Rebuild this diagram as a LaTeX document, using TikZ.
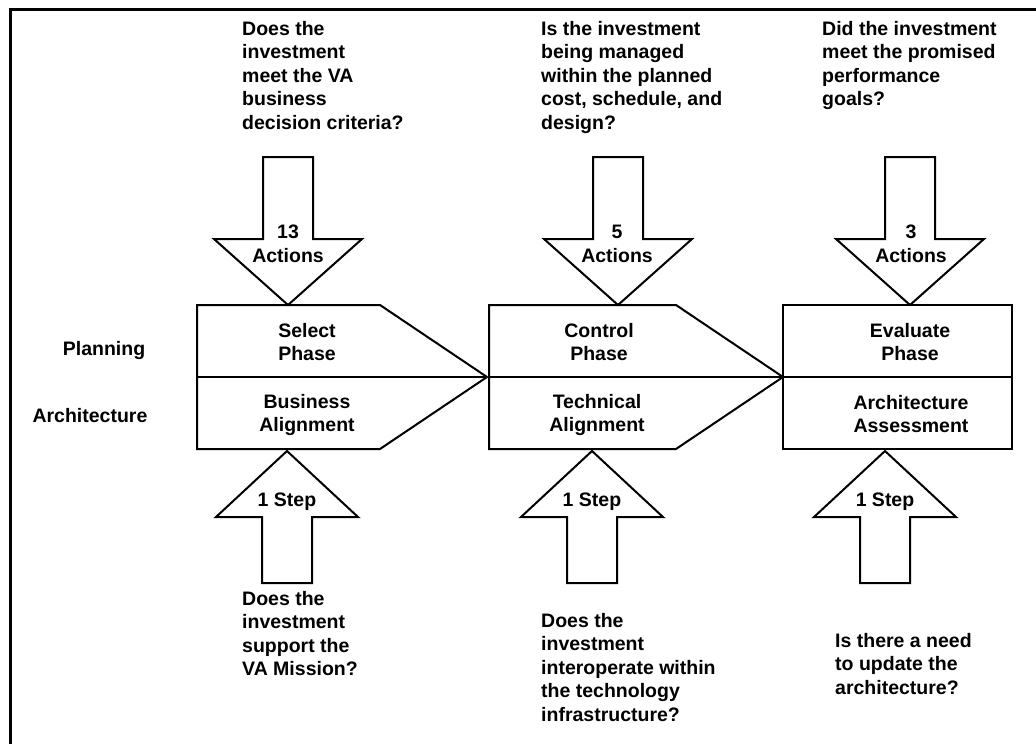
\documentclass[tikz,border=0pt]{standalone}
\usepackage{fontspec}
\setmainfont{Liberation Sans}
\usetikzlibrary{positioning}
\newcommand{\qfont}{\fontsize{19.5}{23.5}\selectfont\bfseries}
\tikzset{
  shp/.style={draw=black, line width=2pt, fill=white, line join=miter},
  frame/.style={draw=black, line width=3pt},
  qtext/.style={font=\qfont, align=left, anchor=north west, inner sep=0pt},
  ptext/.style={font=\qfont, align=center, inner sep=0pt},
  rowlbl/.style={font=\qfont, inner sep=0pt},
}
% ---- block arrows: #1 = centre x ----
\newcommand{\toparrow}[1]{\draw[shp] (#1-25,157) -- (#1+25,157) -- (#1+25,239) -- (#1+74,239)
   -- (#1,305) -- (#1-74,239) -- (#1-25,239) -- cycle;}
\newcommand{\botarrow}[1]{\draw[shp] (#1-25,583) -- (#1+25,583) -- (#1+25,517) -- (#1+71,517)
   -- (#1,451) -- (#1-71,517) -- (#1-25,517) -- cycle;}

\begin{document}
\begin{tikzpicture}[x=1pt, y=-1pt]
\useasboundingbox (0,0) rectangle (1036,744);
\draw[frame] (10,744) -- (10,9) -- (1036,9);
% phase boxes
\draw[shp] (197,305) -- (380,305) -- (487,377) -- (380,449) -- (197,449) -- cycle;
\draw[shp] (197,377) -- (487,377);
\draw[shp] (489,305) -- (676,305) -- (783,377) -- (676,449) -- (489,449) -- cycle;
\draw[shp] (489,377) -- (783,377);
\draw[shp] (783,305) rectangle (1012,449);
\draw[shp] (783,377) -- (1012,377);
% arrows
\toparrow{288} \toparrow{618} \toparrow{910}
\botarrow{287} \botarrow{592} \botarrow{885}
% row labels
\node[rowlbl] (plan) at (104,350) {Planning};
\node[rowlbl] (arch) at (90,416) {Architecture};
% phase texts
\node[ptext] (sel) at (307,342) {Select\\Phase};
\node[ptext] (bal) at (307,415) {Business\\Alignment};
\node[ptext] (ctl) at (599,342) {Control\\Phase};
\node[ptext] (tal) at (597,415) {Technical\\Alignment};
\node[ptext] (evl) at (910,342) {Evaluate\\Phase};
\node[ptext] (aas) at (911,414) {Architecture\\Assessment};
% arrow texts
\node[ptext] (a13) at (288,244) {13\\Actions};
\node[ptext] (a5) at (617,244) {5\\Actions};
\node[ptext] (a3) at (911,244) {3\\Actions};
\node[ptext] (s1) at (287,502) {1 Step};
\node[ptext] (s2) at (592,502) {1 Step};
\node[ptext] (s3) at (885,502) {1 Step};
% questions
\node[qtext] (q1) at (242,21) {Does the\\investment\\meet the VA\\business\\decision criteria?};
\node[qtext] (q2) at (541,21) {Is the investment\\being managed\\within the planned\\cost, schedule, and\\design?};
\node[qtext] (q3) at (822,21) {Did the investment\\meet the promised\\performance\\goals?};
\node[qtext] (q4) at (242,591) {Does the\\investment\\support the\\VA Mission?};
\node[qtext] (q5) at (541,613) {Does the\\investment\\interoperate within\\the technology\\infrastructure?};
\node[qtext] (q6) at (835,633) {Is there a need\\to update the\\architecture?};
\end{tikzpicture}
\end{document}
